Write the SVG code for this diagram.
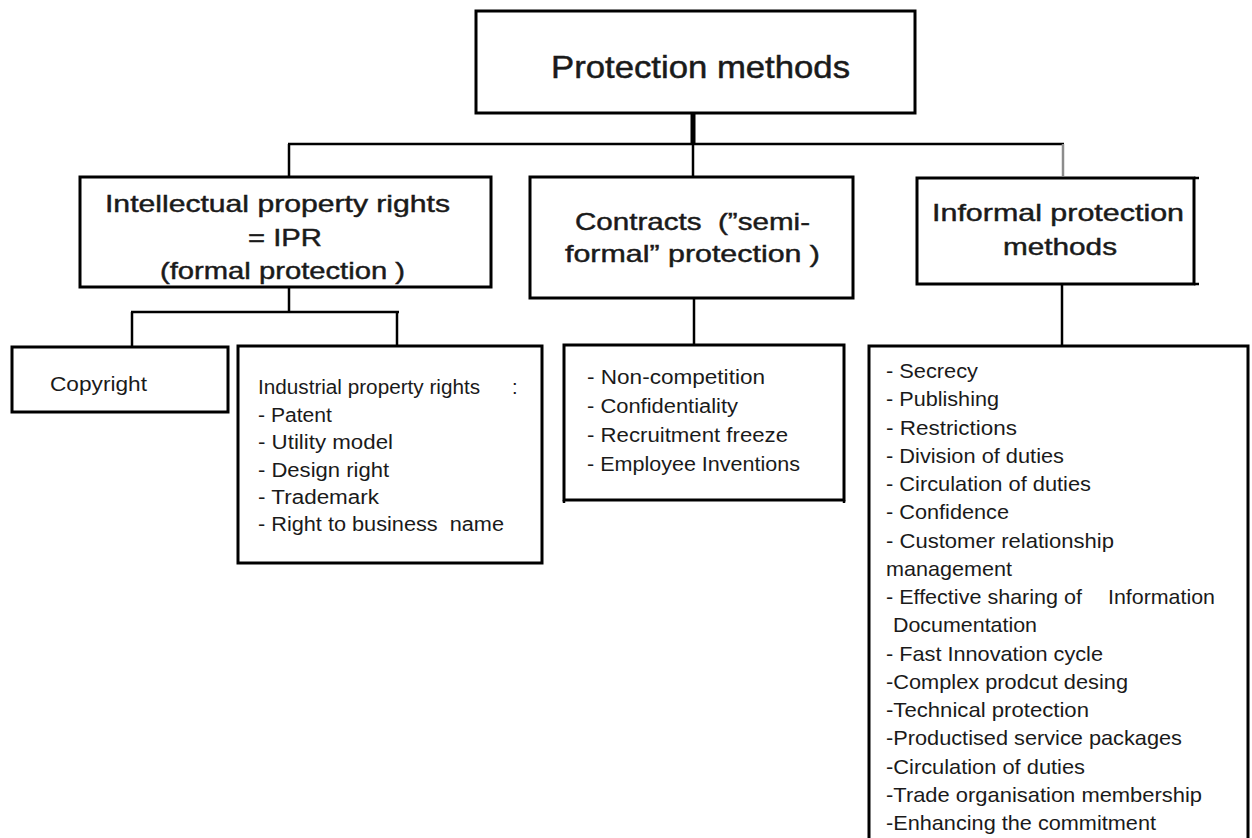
<svg xmlns="http://www.w3.org/2000/svg" width="1252" height="838" viewBox="0 0 1252 838">
<style>
.box{fill:#fff;stroke:#000;stroke-width:3}
.ln{stroke:#000;stroke-width:2.5;fill:none}
text{font-family:"Liberation Sans",Arial,sans-serif;fill:#1a1a1a}
.h1{font-size:32px;stroke:#1a1a1a;stroke-width:0.5}
.h2{font-size:24px;stroke:#1a1a1a;stroke-width:0.45}
.t{font-size:20px}
.l{font-size:21px}
</style>
<rect width="1252" height="838" fill="#fff"/>
<g id="connectors">
<line x1="693" y1="113" x2="693" y2="144" stroke="#000" stroke-width="5"/>
<line class="ln" x1="288" y1="144" x2="1064" y2="144"/>
<line class="ln" x1="289" y1="144" x2="289" y2="177"/>
<line class="ln" x1="693" y1="144" x2="693" y2="180"/>
<line x1="1063" y1="144" x2="1063" y2="176" stroke="#8c8c8c" stroke-width="2.5"/>
<line class="ln" x1="289" y1="287" x2="289" y2="312"/>
<line class="ln" x1="131" y1="312" x2="399" y2="312"/>
<line class="ln" x1="132" y1="312" x2="132" y2="347"/>
<line class="ln" x1="397" y1="312" x2="397" y2="346"/>
<line class="ln" x1="694" y1="298" x2="694" y2="345"/>
<line class="ln" x1="1062" y1="284" x2="1062" y2="346"/>
</g>
<g id="protection-methods">
<rect class="box" x="476" y="11" width="439" height="102"/>
<text class="h1" x="551" y="78" textLength="299" lengthAdjust="spacingAndGlyphs">Protection methods</text>
</g>
<g id="ipr">
<rect class="box" x="80" y="177" width="411" height="110"/>
<text class="h2" x="105" y="212" textLength="345" lengthAdjust="spacingAndGlyphs">Intellectual property rights</text>
<text class="h2" x="248" y="246" textLength="74" lengthAdjust="spacingAndGlyphs">= IPR</text>
<text class="h2" x="160" y="279" textLength="245" lengthAdjust="spacingAndGlyphs">(formal protection )</text>
</g>
<g id="contracts">
<rect class="box" x="530" y="177" width="323" height="121"/>
<text class="h2" x="575" y="230" textLength="235" lengthAdjust="spacingAndGlyphs" xml:space="preserve">Contracts  (”semi-</text>
<text class="h2" x="565" y="262" textLength="255" lengthAdjust="spacingAndGlyphs">formal” protection )</text>
</g>
<g id="informal">
<rect class="box" x="917" y="178" width="277" height="106"/>
<line class="ln" x1="1194" y1="178" x2="1199" y2="178" stroke-width="3"/>
<line class="ln" x1="1194" y1="284" x2="1199" y2="284" stroke-width="3"/>
<text class="h2" x="932" y="221" textLength="252" lengthAdjust="spacingAndGlyphs">Informal protection</text>
<text class="h2" x="1003" y="255" textLength="114" lengthAdjust="spacingAndGlyphs">methods</text>
</g>
<g id="copyright">
<rect class="box" x="12" y="347" width="216" height="65"/>
<text class="t" x="50" y="391" textLength="97" lengthAdjust="spacingAndGlyphs">Copyright</text>
</g>
<g id="industrial">
<rect class="box" x="238" y="346" width="304" height="217"/>
<text class="t" x="258" y="394" textLength="222" lengthAdjust="spacingAndGlyphs">Industrial property rights</text>
<text class="t" x="512" y="394">:</text>
<text class="t" x="258" y="422" textLength="74" lengthAdjust="spacingAndGlyphs">- Patent</text>
<text class="t" x="258" y="449" textLength="135" lengthAdjust="spacingAndGlyphs">- Utility model</text>
<text class="t" x="258" y="477" textLength="131" lengthAdjust="spacingAndGlyphs">- Design right</text>
<text class="t" x="258" y="504" textLength="121" lengthAdjust="spacingAndGlyphs">- Trademark</text>
<text class="t" x="258" y="531" textLength="246" lengthAdjust="spacingAndGlyphs" xml:space="preserve">- Right to business  name</text>
</g>
<g id="contracts-list">
<rect class="box" x="564" y="345" width="280" height="155"/>
<line class="ln" x1="564" y1="500" x2="564" y2="503" stroke-width="3"/>
<line class="ln" x1="844" y1="500" x2="844" y2="503" stroke-width="3"/>
<text class="t" x="587" y="384" textLength="178" lengthAdjust="spacingAndGlyphs">- Non-competition</text>
<text class="t" x="587" y="413" textLength="151" lengthAdjust="spacingAndGlyphs">- Confidentiality</text>
<text class="t" x="587" y="442" textLength="201" lengthAdjust="spacingAndGlyphs">- Recruitment freeze</text>
<text class="t" x="587" y="471" textLength="213" lengthAdjust="spacingAndGlyphs">- Employee Inventions</text>
</g>
<g id="informal-list">
<path d="M869,845 V346 H1248 V845" fill="#fff" stroke="#000" stroke-width="3"/>
<text class="l" x="886" y="378" textLength="92" lengthAdjust="spacingAndGlyphs">- Secrecy</text>
<text class="l" x="886" y="406" textLength="113" lengthAdjust="spacingAndGlyphs">- Publishing</text>
<text class="l" x="886" y="435" textLength="131" lengthAdjust="spacingAndGlyphs">- Restrictions</text>
<text class="l" x="886" y="463" textLength="178" lengthAdjust="spacingAndGlyphs">- Division of duties</text>
<text class="l" x="886" y="491" textLength="205" lengthAdjust="spacingAndGlyphs">- Circulation of duties</text>
<text class="l" x="886" y="519" textLength="123" lengthAdjust="spacingAndGlyphs">- Confidence</text>
<text class="l" x="886" y="548" textLength="228" lengthAdjust="spacingAndGlyphs">- Customer relationship</text>
<text class="l" x="886" y="576" textLength="126" lengthAdjust="spacingAndGlyphs">management</text>
<text class="l" x="886" y="604" textLength="196" lengthAdjust="spacingAndGlyphs">- Effective sharing of</text>
<text class="l" x="1108" y="604" textLength="107" lengthAdjust="spacingAndGlyphs">Information</text>
<text class="l" x="893" y="632" textLength="144" lengthAdjust="spacingAndGlyphs">Documentation</text>
<text class="l" x="886" y="661" textLength="217" lengthAdjust="spacingAndGlyphs">- Fast Innovation cycle</text>
<text class="l" x="886" y="689" textLength="242" lengthAdjust="spacingAndGlyphs">-Complex prodcut desing</text>
<text class="l" x="886" y="717" textLength="203" lengthAdjust="spacingAndGlyphs">-Technical protection</text>
<text class="l" x="886" y="745" textLength="296" lengthAdjust="spacingAndGlyphs">-Productised service packages</text>
<text class="l" x="886" y="774" textLength="199" lengthAdjust="spacingAndGlyphs">-Circulation of duties</text>
<text class="l" x="886" y="802" textLength="316" lengthAdjust="spacingAndGlyphs">-Trade organisation membership</text>
<text class="l" x="886" y="830" textLength="270" lengthAdjust="spacingAndGlyphs">-Enhancing the commitment</text>
</g>
</svg>
